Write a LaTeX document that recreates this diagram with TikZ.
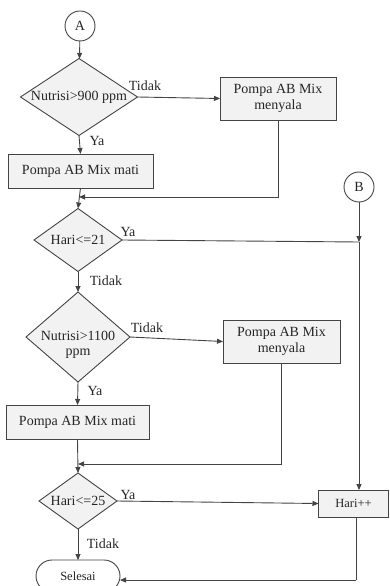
\documentclass[tikz,border=0pt]{standalone}
\usepackage{fontspec}
\setmainfont{Liberation Serif}
\usetikzlibrary{shapes.geometric,arrows.meta}
\definecolor{ln}{HTML}{444444}
\definecolor{bx}{HTML}{F2F2F2}
\tikzset{
  base/.style={draw=ln, line width=0.9bp, fill=bx, inner sep=0pt, outer sep=0pt,
    font=\fontsize{14bp}{15.5bp}\selectfont, text=black!85},
  procbox/.style={base, rectangle, align=center},
  decision/.style={base, diamond},
  conn/.style={base, circle, fill=white, minimum size=30bp},
  term/.style={base, rectangle, rounded corners=16bp, fill=white, font=\fontsize{12.5bp}{14bp}\selectfont},
  dtext/.style={font=\fontsize{14bp}{15.5bp}\selectfont, text=black!85, align=center, inner sep=0pt},
  lbl/.style={font=\fontsize{14bp}{15.5bp}\selectfont, text=black!85, inner sep=0pt},
  line/.style={draw=ln, line width=0.9bp},
  arr/.style={line, -{Triangle[length=6bp,width=5bp]}}
}
\begin{document}
\begin{tikzpicture}[x=1bp,y=-1bp]
\useasboundingbox (0,0) rectangle (389,586);
% nodes
\node[conn] (A) at (80,26) {A};
\node[decision, minimum width=117bp, minimum height=77bp] (d1) at (79,97) {};
\node[dtext] (t1) at (d1.center) {Nutrisi>900 ppm};
\node[procbox, minimum width=116bp, minimum height=43bp] (p1) at (278,98.5) {Pompa AB Mix\\menyala};
\node[procbox, minimum width=145bp, minimum height=34bp] (m1) at (80.5,171) {Pompa AB Mix mati};
\node[decision, minimum width=88bp, minimum height=63bp] (d2) at (78,240) {};
\node[dtext] (t2) at (d2.center) {Hari<=21};
\node[conn] (B) at (359,187) {B};
\node[decision, minimum width=104bp, minimum height=90bp] (d3) at (78,337) {};
\node[dtext] (t3) at (78,345) {Nutrisi>1100\\ppm};
\node[procbox, minimum width=117bp, minimum height=43bp] (p2) at (281.5,341.5) {Pompa AB Mix\\menyala};
\node[procbox, minimum width=143bp, minimum height=34bp] (m2) at (77.5,422) {Pompa AB Mix mati};
\node[decision, minimum width=78bp, minimum height=56bp] (d4) at (78,501) {};
\node[dtext] (t4) at (d4.center) {Hari<=25};
\node[procbox, minimum width=70bp, minimum height=27bp, font=\fontsize{12.5bp}{14bp}\selectfont] (h) at (353.5,503.5) {Hari++};
\node[term, minimum width=84bp, minimum height=32bp] (S) at (78,576) {Selesai};
% junction coordinates
\coordinate (j1) at (79,197);
\coordinate (jB) at (359,242);
\coordinate (j2) at (78,464);
\coordinate (j3) at (356,580);
% connectors
\draw[arr] (A) -- (d1);
\draw[arr] (d1.east) -- (p1.west);
\draw[arr] (d1.south) -- (m1.north);
\draw[arr] (p1.south) |- (j1);
\draw[arr] (m1.south) -- (d2.north);
\draw[line] (d2.east) -- (jB);
\draw[arr] (B.south) -- (jB);
\draw[arr] (jB) -- (h.north -| jB);
\draw[arr] (d2.south) -- (d3.north);
\draw[arr] (d3.east) -- (p2.west);
\draw[arr] (d3.south) -- (m2.north);
\draw[arr] (p2.south) |- (j2);
\draw[arr] (m2.south) -- (d4.north);
\draw[arr] (d4.east) -- (h.west);
\draw[arr] (d4.south) -- (S.north);
\draw[line] (h.south -| j3) -- (j3);
\draw[arr] (j3) -- (S.east |- j3);
% labels
\node[lbl] at (145,86) {Tidak};
\node[lbl] at (97,141) {Ya};
\node[lbl] at (128,232) {Ya};
\node[lbl] at (106,281) {Tidak};
\node[lbl] at (147,328) {Tidak};
\node[lbl] at (95,391) {Ya};
\node[lbl] at (128,495) {Ya};
\node[lbl] at (103,544) {Tidak};
\end{tikzpicture}
\end{document}
